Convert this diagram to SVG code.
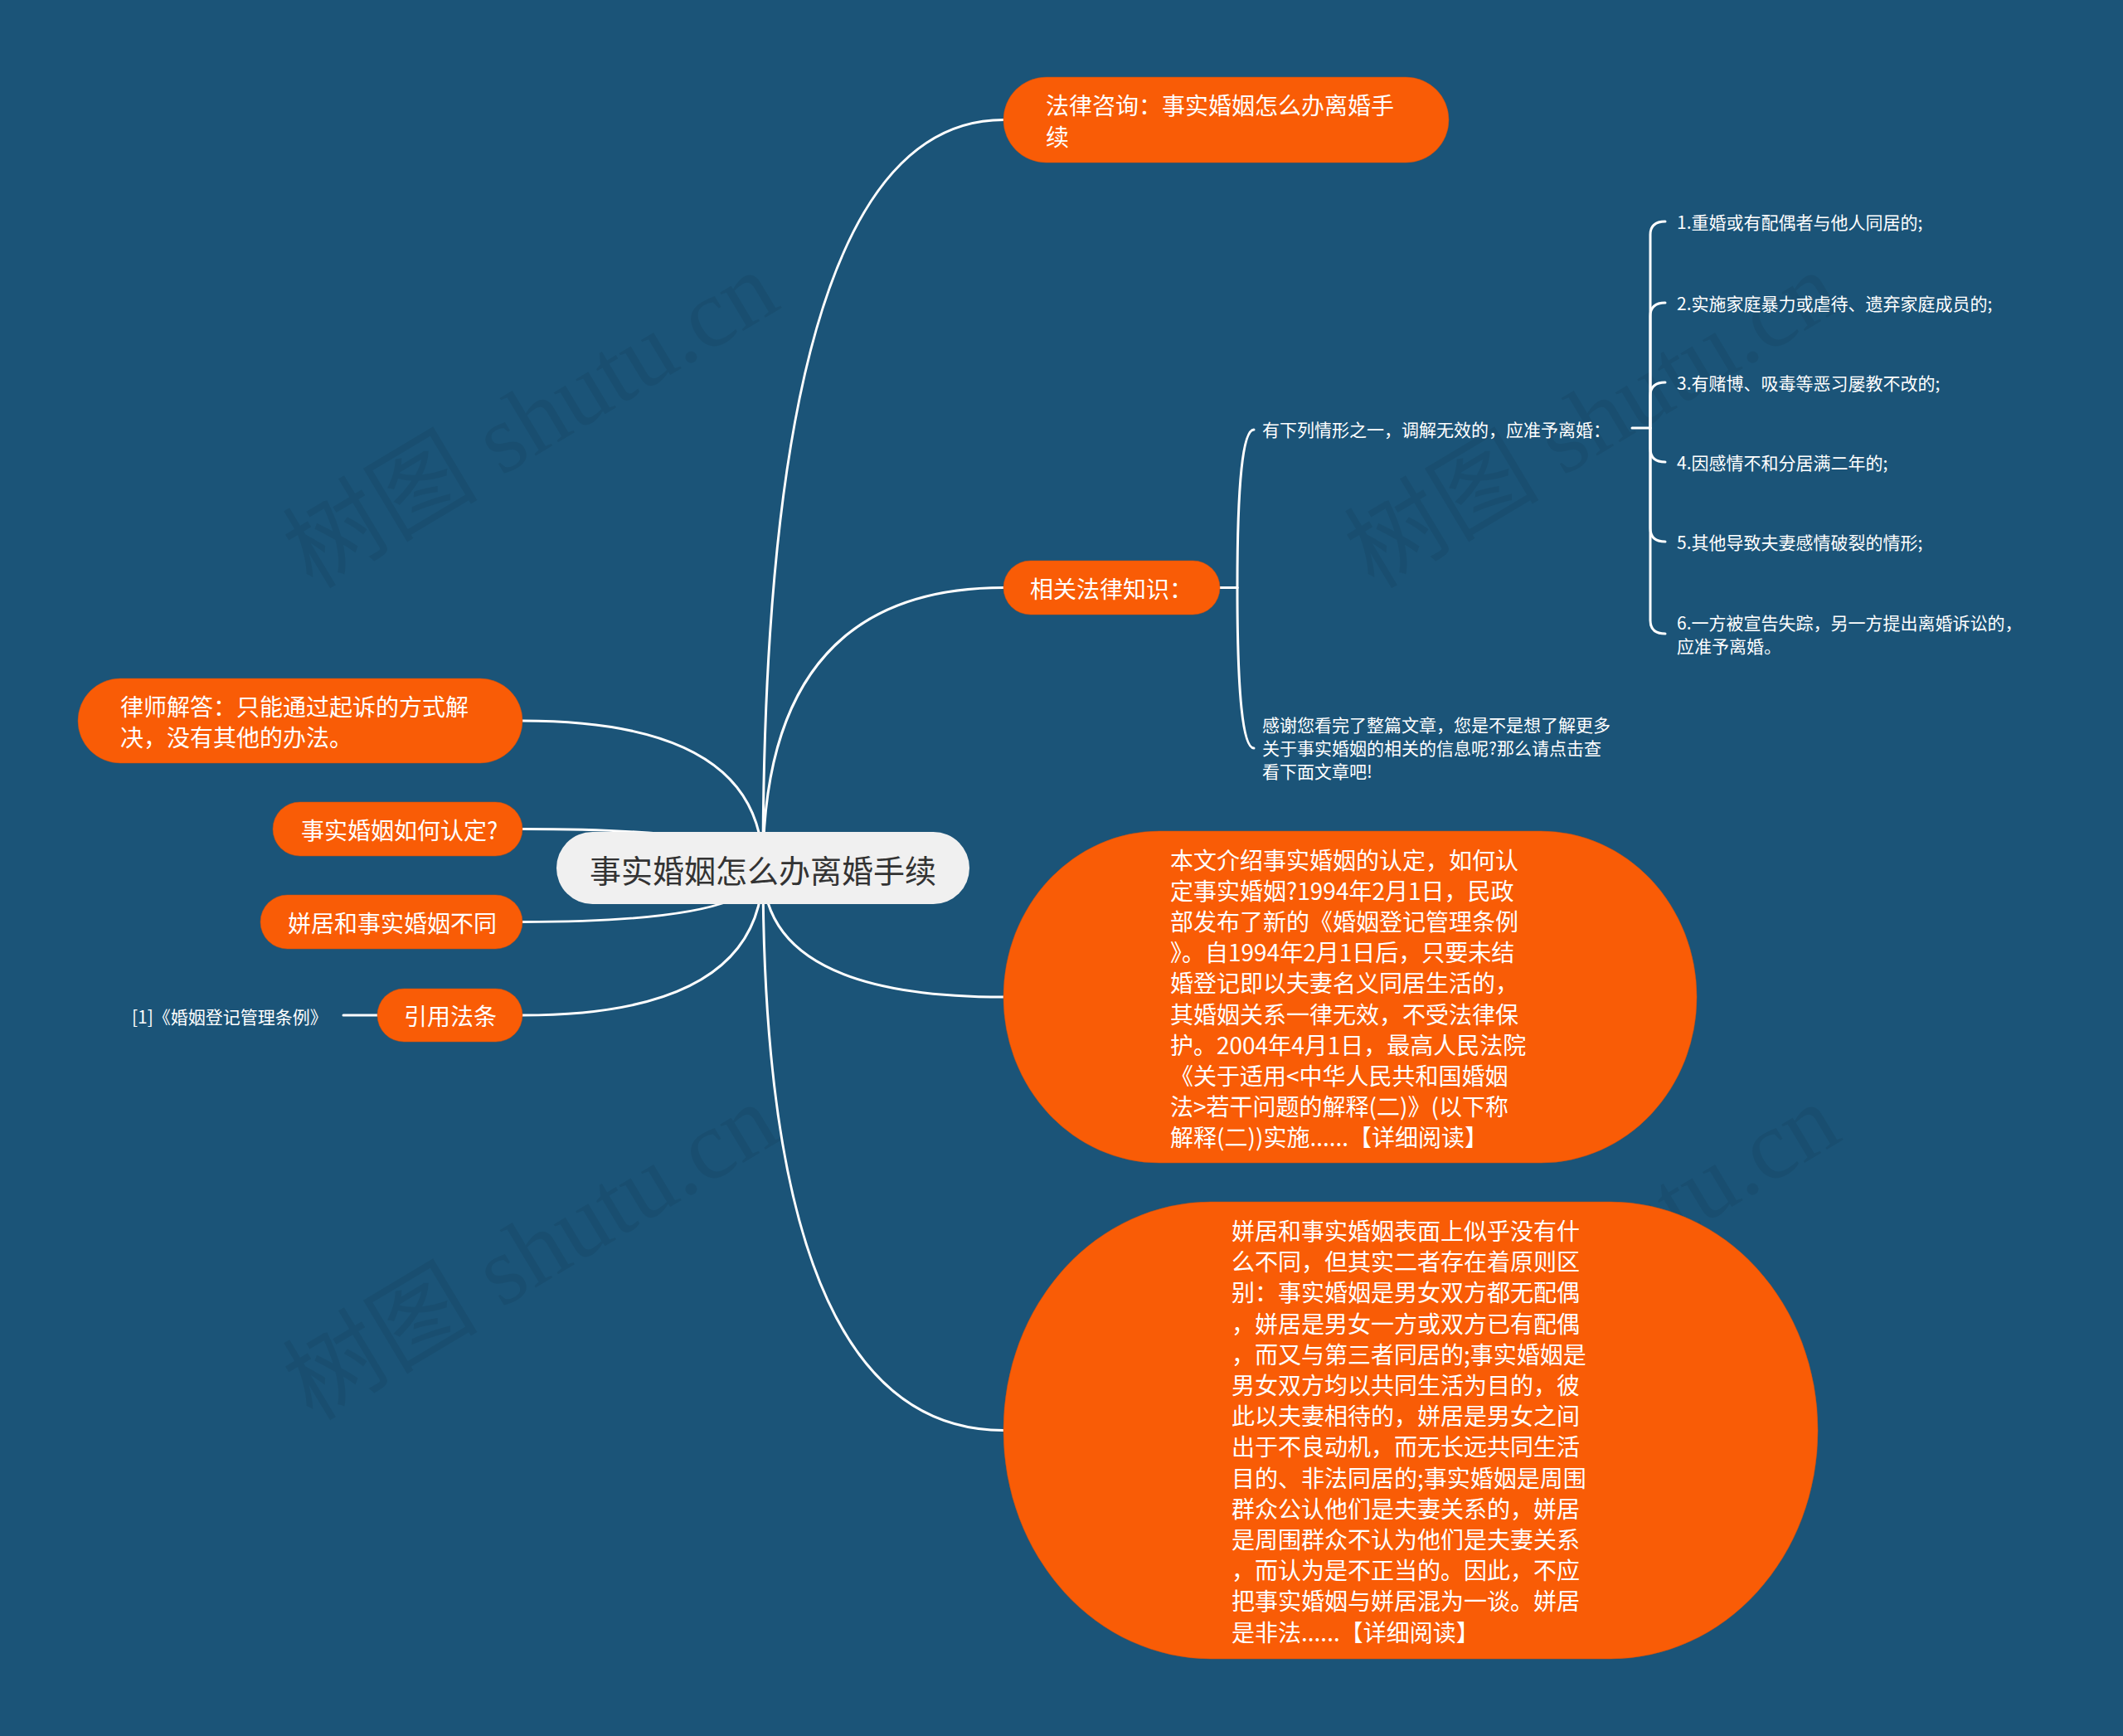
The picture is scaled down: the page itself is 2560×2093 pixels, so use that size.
<svg xmlns="http://www.w3.org/2000/svg" width="2560" height="2093" viewBox="0 0 2560 2093">
<style>
.bg{fill:#1b5478}
.wm{font-family:"Liberation Serif","Noto Sans CJK SC",serif;font-size:118px;fill:#000;fill-opacity:0.065}
.conn{fill:none;stroke:#ffffff;stroke-width:3;stroke-linecap:round}
.nd{fill:#f95c06;stroke:#c9500f;stroke-opacity:0.5;stroke-width:1}
.root{fill:#f0f0f0}
.t{font-family:"Noto Sans CJK SC","Noto Sans",sans-serif;fill:#ffffff;dominant-baseline:central}
.big{font-size:28px}
.sm{font-size:21px}
.rt{font-size:38px;fill:#333333;text-anchor:middle}
</style>
<rect class="bg" x="0" y="0" width="2560" height="2093"/>
<g id="watermarks">
<text class="wm" text-anchor="middle" transform="rotate(-31 645 515)" x="645" y="545">树图 shutu.cn</text>
<text class="wm" text-anchor="middle" transform="rotate(-31 1925 515)" x="1925" y="545">树图 shutu.cn</text>
<text class="wm" text-anchor="middle" transform="rotate(-31 645 1518)" x="645" y="1548">树图 shutu.cn</text>
<text class="wm" text-anchor="middle" transform="rotate(-31 1925 1518)" x="1925" y="1548">树图 shutu.cn</text>
</g>
<g id="connectors">
<path class="conn" d="M920,1047 Q920,144.5 1210,144.5"/>
<path class="conn" d="M920,1047 Q920,708.5 1210,708.5"/>
<path class="conn" d="M920,1047 Q920,1202 1210,1202"/>
<path class="conn" d="M920,1047 Q920,1724.5 1210,1724.5"/>
<path class="conn" d="M920,1047 Q920,869 630,869"/>
<path class="conn" d="M920,1047 Q920,999.5 630,999.5"/>
<path class="conn" d="M920,1047 Q920,1111.5 630,1111.5"/>
<path class="conn" d="M920,1047 Q920,1224 630,1224"/>
<path class="conn" d="M414,1224 H455"/>
<path class="conn" d="M1471,708.5 H1492"/>
<path class="conn" d="M1492,708.5 Q1492,518 1512,518"/>
<path class="conn" d="M1492,708.5 Q1492,902 1512,902"/>
<path class="conn" d="M1968,516 H1990"/>
<path class="conn" d="M1990,516 V283 Q1990,267 2008,267"/>
<path class="conn" d="M1990,516 V381 Q1990,365 2008,365"/>
<path class="conn" d="M1990,516 V477 Q1990,461 2008,461"/>
<path class="conn" d="M1990,516 V541 Q1990,557 2008,557"/>
<path class="conn" d="M1990,516 V637 Q1990,653 2008,653"/>
<path class="conn" d="M1990,516 V748 Q1990,764 2008,764"/>
</g>
<g id="root">
<rect class="root" x="671" y="1003" width="498" height="87" rx="43.5"/>
<text class="t rt" x="920" y="1047">事实婚姻怎么办离婚手续</text>
</g>
<g id="n-consult">
<rect class="nd" x="1210" y="93" width="537" height="103" rx="51.5"/>
<text class="t big" x="1261" y="126">法律咨询：事实婚姻怎么办离婚手</text>
<text class="t big" x="1261" y="163.5">续</text>
</g>
<g id="n-law">
<rect class="nd" x="1210" y="676" width="261" height="65" rx="32.5"/>
<text class="t big" x="1242" y="708.5">相关法律知识：</text>
</g>
<g id="n-law-cond">
<text class="t sm" x="1522" y="517">有下列情形之一，调解无效的，应准予离婚：</text>
</g>
<g id="n-item1"><text class="t sm" x="2022" y="267">1.重婚或有配偶者与他人同居的;</text></g>
<g id="n-item2"><text class="t sm" x="2022" y="365">2.实施家庭暴力或虐待、遗弃家庭成员的;</text></g>
<g id="n-item3"><text class="t sm" x="2022" y="461">3.有赌博、吸毒等恶习屡教不改的;</text></g>
<g id="n-item4"><text class="t sm" x="2022" y="557">4.因感情不和分居满二年的;</text></g>
<g id="n-item5"><text class="t sm" x="2022" y="653">5.其他导致夫妻感情破裂的情形;</text></g>
<g id="n-item6">
<text class="t sm" x="2022" y="750">6.一方被宣告失踪，另一方提出离婚诉讼的，</text>
<text class="t sm" x="2022" y="778">应准予离婚。</text>
</g>
<g id="n-thanks">
<text class="t sm" x="1522" y="873">感谢您看完了整篇文章，您是不是想了解更多</text>
<text class="t sm" x="1522" y="901">关于事实婚姻的相关的信息呢?那么请点击查</text>
<text class="t sm" x="1522" y="929">看下面文章吧!</text>
</g>
<g id="n-lawyer">
<rect class="nd" x="94" y="818" width="536" height="102" rx="51"/>
<text class="t big" x="145" y="850.5">律师解答：只能通过起诉的方式解</text>
<text class="t big" x="145" y="888">决，没有其他的办法。</text>
</g>
<g id="n-how">
<rect class="nd" x="329" y="967" width="301" height="65" rx="32.5"/>
<text class="t big" x="363" y="999.5">事实婚姻如何认定?</text>
</g>
<g id="n-diff">
<rect class="nd" x="314" y="1079" width="316" height="65" rx="32.5"/>
<text class="t big" x="347" y="1111.5">姘居和事实婚姻不同</text>
</g>
<g id="n-cite">
<rect class="nd" x="455" y="1192" width="175" height="64" rx="32"/>
<text class="t big" x="487" y="1224">引用法条</text>
</g>
<g id="n-cite-ref">
<text class="t sm" x="159" y="1225">[1]《婚姻登记管理条例》</text>
</g>
<g id="n-article1">
<rect class="nd" x="1210" y="1002" width="836" height="400" rx="188" ry="200"/>
<text class="t big" x="1411" y="1036">本文介绍事实婚姻的认定，如何认</text>
<text class="t big" x="1411" y="1073.1">定事实婚姻?1994年2月1日，民政</text>
<text class="t big" x="1411" y="1110.2">部发布了新的《婚姻登记管理条例</text>
<text class="t big" x="1411" y="1147.3">》。自1994年2月1日后，只要未结</text>
<text class="t big" x="1411" y="1184.4">婚登记即以夫妻名义同居生活的，</text>
<text class="t big" x="1411" y="1221.5">其婚姻关系一律无效，不受法律保</text>
<text class="t big" x="1411" y="1258.6">护。2004年4月1日，最高人民法院</text>
<text class="t big" x="1411" y="1295.7">《关于适用&lt;中华人民共和国婚姻</text>
<text class="t big" x="1411" y="1332.8">法&gt;若干问题的解释(二)》(以下称</text>
<text class="t big" x="1411" y="1369.9">解释(二))实施......【详细阅读】</text>
</g>
<g id="n-article2">
<rect class="nd" x="1210" y="1449" width="982" height="551" rx="250" ry="275"/>
<text class="t big" x="1485" y="1483">姘居和事实婚姻表面上似乎没有什</text>
<text class="t big" x="1485" y="1520.2">么不同，但其实二者存在着原则区</text>
<text class="t big" x="1485" y="1557.4">别：事实婚姻是男女双方都无配偶</text>
<text class="t big" x="1485" y="1594.6">，姘居是男女一方或双方已有配偶</text>
<text class="t big" x="1485" y="1631.8">，而又与第三者同居的;事实婚姻是</text>
<text class="t big" x="1485" y="1669">男女双方均以共同生活为目的，彼</text>
<text class="t big" x="1485" y="1706.2">此以夫妻相待的，姘居是男女之间</text>
<text class="t big" x="1485" y="1743.4">出于不良动机，而无长远共同生活</text>
<text class="t big" x="1485" y="1780.6">目的、非法同居的;事实婚姻是周围</text>
<text class="t big" x="1485" y="1817.8">群众公认他们是夫妻关系的，姘居</text>
<text class="t big" x="1485" y="1855">是周围群众不认为他们是夫妻关系</text>
<text class="t big" x="1485" y="1892.2">，而认为是不正当的。因此，不应</text>
<text class="t big" x="1485" y="1929.4">把事实婚姻与姘居混为一谈。姘居</text>
<text class="t big" x="1485" y="1966.6">是非法......【详细阅读】</text>
</g>
</svg>
